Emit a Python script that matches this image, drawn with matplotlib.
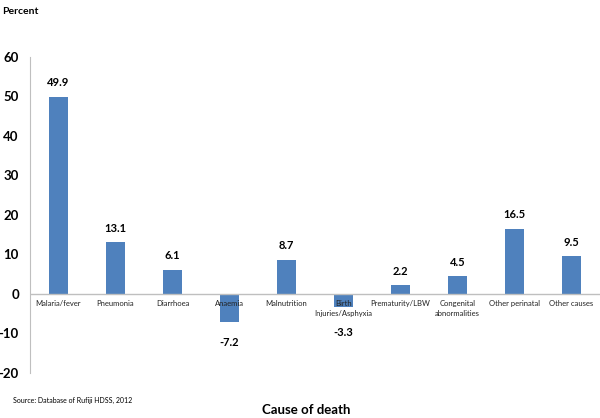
import numpy as np
import matplotlib.pyplot as plt

plt.rcParams['font.family'] = ['Lato', 'DejaVu Sans']

# data
causes = ["Malaria/fever", "Pneumonia", "Diarrhoea", "Anaemia", "Malnutrition",
          "Birth\nInjuries/Asphyxia", "Prematurity/LBW", "Congenital\nabnormalities",
          "Other perinatal", "Other causes"]
values = [49.9, 13.1, 6.1, -7.2, 8.7, -3.3, 2.2, 4.5, 16.5, 9.5]
yticks = [-20, -10, 0, 10, 20, 30, 40, 50, 60]

fig = plt.figure(figsize=(6, 4.18), dpi=100)
ax = fig.add_axes([0.05, 0.1077, 0.95, 0.756])

x = np.arange(len(causes))
ax.bar(x, values, width=0.33, color="#4F81BD", zorder=2)

ax.set_xlim(-0.5, len(causes) - 0.5)
ax.set_ylim(-20, 60)
ax.set_yticks(yticks)
ax.set_yticklabels([str(t) for t in yticks], fontsize=9.5, fontweight="bold")
ax.tick_params(axis="y", length=0, pad=8)
ax.set_xticks([])

for s in ["top", "right", "bottom"]:
    ax.spines[s].set_visible(False)
ax.spines["left"].set_color("#BFBFBF")
ax.axhline(0, color="#BFBFBF", lw=1, zorder=3)

# category labels below the zero line
for xi, c in zip(x, causes):
    ax.text(xi, -1.6, c, ha="center", va="top", fontsize=5.5, color="#222222",
            linespacing=1.4, zorder=4)

# value labels
for xi, v in zip(x, values):
    if v >= 0:
        ax.text(xi, v + 2.2, f"{v:.1f}", ha="center", va="bottom",
                fontsize=8, fontweight="bold")
    else:
        ypos = -12.3 if v < -5 else -9.8
        ax.text(xi, ypos, f"{v:.1f}", ha="center", va="center",
                fontsize=8, fontweight="bold")

fig.text(0.003, 0.972, "Percent", fontsize=7.5, fontweight="bold", va="center")
fig.text(0.51, 0.018, "Cause of death", fontsize=9.5, fontweight="bold", ha="center", va="center")
fig.text(0.022, 0.043, "Source: Database of Rufiji HDSS, 2012", fontsize=5, va="center")

fig.savefig("out.png", dpi=100, facecolor="white")
